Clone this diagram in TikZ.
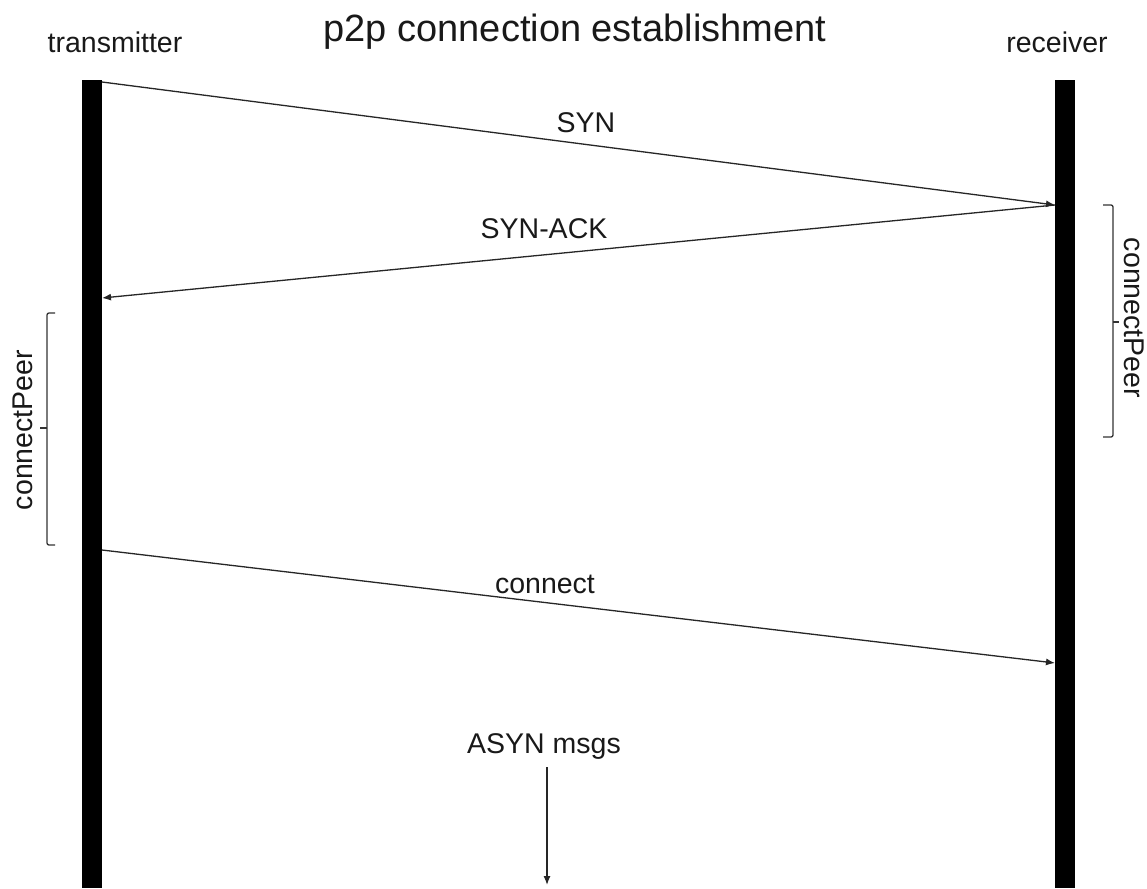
\documentclass[tikz,border=0pt]{standalone}
\usepackage{fontspec}
\setmainfont{Liberation Sans}
\usetikzlibrary{arrows.meta}
\begin{document}
\begin{tikzpicture}[x=1pt,y=-1pt,
  lbl/.style={font=\fontsize{28.5}{34}\selectfont, text=black!90, inner sep=0pt, anchor=base},
  ttl/.style={font=\fontsize{38}{44}\selectfont, text=black!90, inner sep=0pt, anchor=base},
  lifebar/.style={fill=black, draw=none, minimum width=20pt, minimum height=808pt, inner sep=0pt, anchor=north},
  msg/.style={draw=black!85, line width=1.3pt, -{Latex[length=9pt,width=7pt]}},
  brk/.style={draw=black!80, line width=1.3pt, rounded corners=2pt},
  side/.style={font=\fontsize{28.5}{34}\selectfont, text=black!90, inner sep=0pt}]
\useasboundingbox (0,0) rectangle (1147,888);
\fill[white] (0,0) rectangle (1147,888);

\node[ttl] (title) at (575,42) {p2p connection establishment};
\node[lbl] (txl) at (115,53) {transmitter};
\node[lbl] (rxl) at (1057,53) {receiver};

\node[lifebar] (tx) at (92,80) {};
\node[lifebar] (rx) at (1065,80) {};

\coordinate (s1) at (102,82);
\coordinate (s2) at (1055,205);
\coordinate (a2) at (102,298);
\coordinate (c1) at (102,550);
\coordinate (c2) at (1055,663);

\draw[msg] (s1) -- (s2);
\node[lbl] (syn) at (586,132) {SYN};
\draw[msg] (s2) -- (a2);
\node[lbl] (synack) at (544,238) {SYN-ACK};
\draw[msg] (c1) -- (c2);
\node[lbl] (conn) at (545,593) {connect};

\node[lbl] (asyn) at (544,753) {ASYN msgs};
\coordinate (as1) at (547,767);
\coordinate (as2) at (547,885);
\draw[msg] (as1) -- (as2);

% left bracket
\draw[brk] (55,313) -- (47,313) -- (47,545) -- (55,545);
\draw[brk] (47,428) -- (40,428);
\node[side, rotate=90] (cpl) at (23,430) {connectPeer};

% right bracket
\draw[brk] (1103,205) -- (1113,205) -- (1113,437) -- (1103,437);
\draw[brk] (1113,322) -- (1119,322);
\node[side, rotate=-90] (cpr) at (1134,318) {connectPeer};
\end{tikzpicture}
\end{document}
